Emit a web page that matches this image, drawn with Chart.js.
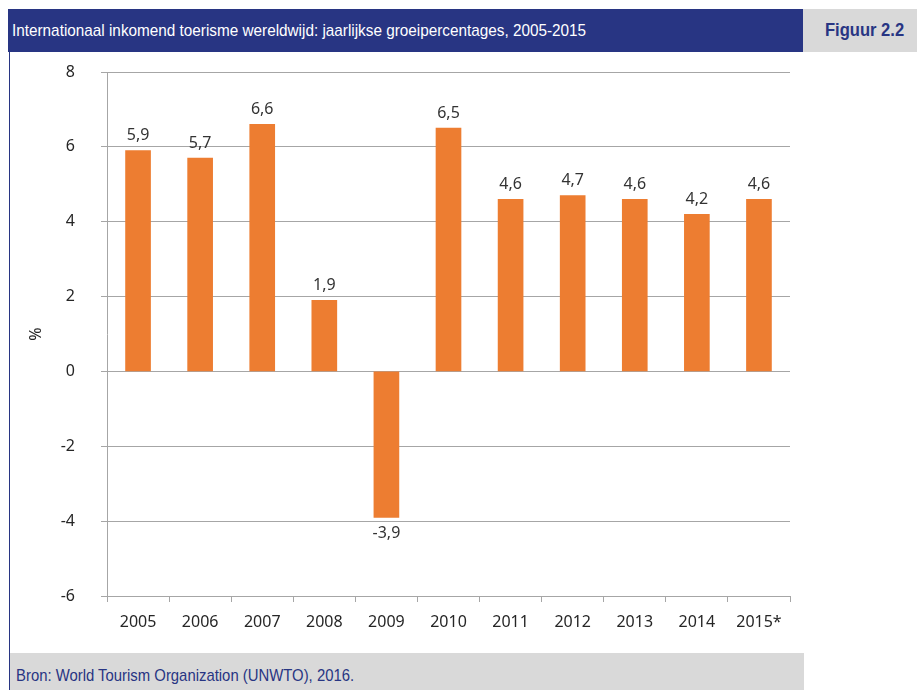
<!DOCTYPE html>
<html>
<head>
<meta charset="utf-8">
<title>Figuur 2.2</title>
<script src="https://cdn.jsdelivr.net/npm/chart.js@4/dist/chart.umd.min.js"></script>
<style>
  body {
    margin: 0;
    width: 917px;
    height: 690px;
    background: #ffffff;
    position: relative;
    overflow: hidden;
    font-family: "Liberation Sans Narrow", "Arial Narrow", "Liberation Sans", sans-serif;
  }
  .narrow {
    display: inline-block;
    transform-origin: left center;
  }
  #header {
    position: absolute;
    left: 8px;
    top: 9px;
    width: 791px;
    height: 43px;
    padding-left: 4px;
    background: #283583;
    color: #ffffff;
    font-size: 17px;
    line-height: 43px;
    white-space: nowrap;
  }
  #header .narrow { transform: scaleX(0.9); }
  #figLabel {
    position: absolute;
    left: 803px;
    top: 9px;
    width: 92px;
    height: 43px;
    padding-left: 22px;
    background: #d9d9d9;
    color: #283583;
    font-weight: bold;
    font-size: 18px;
    line-height: 43px;
    white-space: nowrap;
  }
  #figLabel .narrow { transform: scaleX(0.92); }
  #leftRule {
    position: absolute;
    left: 9px;
    top: 52px;
    width: 1px;
    height: 638px;
    background: #283583;
  }
  #footer {
    position: absolute;
    left: 10px;
    top: 653px;
    width: 788px;
    height: 37px;
    padding-left: 6px;
    background: #d9d9d9;
    color: #283583;
    font-size: 17px;
    line-height: 46px;
    white-space: nowrap;
  }
  #footer .narrow { transform: scaleX(0.875); }
  #chartBox {
    position: absolute;
    left: 10px;
    top: 52px;
    width: 793px;
    height: 601px;
  }
</style>
</head>
<body>
<div id="header"><span class="narrow">Internationaal inkomend toerisme wereldwijd: jaarlijkse groeipercentages, 2005-2015</span></div>
<div id="figLabel"><span class="narrow">Figuur 2.2</span></div>
<div id="leftRule"></div>
<div id="chartBox"><canvas id="growthChart"></canvas></div>
<div id="footer"><span class="narrow">Bron: World Tourism Organization (UNWTO), 2016.</span></div>

<script>
const years = ["2005", "2006", "2007", "2008", "2009", "2010", "2011", "2012", "2013", "2014", "2015*"];
const growth = [5.9, 5.7, 6.6, 1.9, -3.9, 6.5, 4.6, 4.7, 4.6, 4.2, 4.6];
const yMin = -6;
const yMax = 8;
const yStep = 2;

const barColor = "#ED7D31";
const gridColor = "#a6a6a6";
const textColor = "#262626";
const chartFont = "'Noto Sans', 'Open Sans', sans-serif";

// values written above (or below) each bar, Dutch decimal comma
const valueLabels = {
  id: "valueLabels",
  afterDatasetsDraw(chart) {
    const ctx = chart.ctx;
    const meta = chart.getDatasetMeta(0);
    ctx.save();
    ctx.font = "16px " + chartFont;
    ctx.fillStyle = "#333333";
    ctx.textAlign = "center";
    ctx.textBaseline = "middle";
    meta.data.forEach((bar, i) => {
      const value = growth[i];
      const text = value.toFixed(1).replace(".", ",");
      const y = value >= 0 ? bar.y - 15 : bar.y + 16;
      ctx.fillText(text, bar.x, y);
    });
    ctx.restore();
  },
};

const chart = new Chart(document.getElementById("growthChart"), {
  type: "bar",
  data: {
    labels: years,
    datasets: [
      {
        label: "%",
        data: growth,
        backgroundColor: barColor,
        borderWidth: 0,
        barThickness: 25,
      },
    ],
  },
  options: {
    responsive: true,
    maintainAspectRatio: false,
    animation: false,
    layout: {
      padding: { top: 20, right: 13, bottom: 0, left: 0 },
    },
    plugins: {
      legend: { display: false },
      tooltip: { enabled: false },
    },
    scales: {
      x: {
        grid: {
          offset: true,
          drawOnChartArea: false,
          drawTicks: true,
          tickLength: 6,
          color: gridColor,
        },
        border: { display: true, color: gridColor },
        ticks: {
          color: textColor,
          padding: 11,
          font: { family: chartFont, size: 16 },
        },
        afterFit: function (scale) {
          scale.height = 57;
        },
      },
      y: {
        min: yMin,
        max: yMax,
        grid: {
          color: gridColor,
          drawTicks: true,
          tickLength: 6,
        },
        border: { display: true, color: gridColor },
        ticks: {
          stepSize: yStep,
          color: textColor,
          padding: 26,
          font: { family: chartFont, size: 16 },
        },
        title: {
          display: true,
          text: "%",
          color: textColor,
          padding: { top: 17, bottom: 0 },
          font: { family: chartFont, size: 16 },
        },
        afterFit: function (scale) {
          // fixed axis width; the tick padding should not push the plot down
          scale.width = 97;
          scale.paddingTop = 0;
          scale.paddingBottom = 0;
        },
      },
    },
  },
  plugins: [valueLabels],
});
</script>
</body>
</html>
